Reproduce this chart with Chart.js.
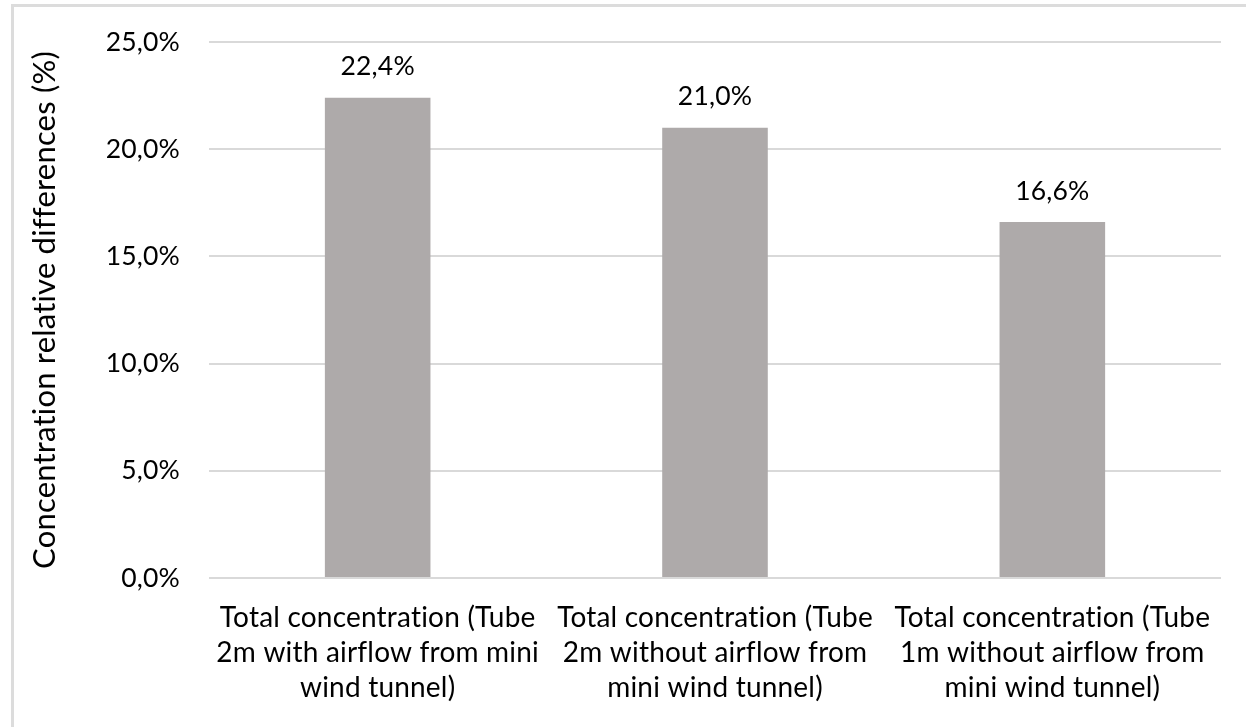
<!DOCTYPE html>
<html>
<head>
<meta charset="utf-8">
<script src="https://cdn.jsdelivr.net/npm/chart.js@4/dist/chart.umd.min.js"></script>
<style>
  html, body { margin: 0; padding: 0; background: #fff; overflow: hidden; }
  #wrap { position: relative; width: 1246px; height: 727px; }
  #frame {
    position: absolute; left: 11px; top: 4px; width: 1400px; height: 900px;
    border: 3px solid #dcdcdc; box-sizing: border-box; pointer-events: none;
  }
  canvas { position: absolute; left: 0; top: 0; }
</style>
</head>
<body>
<div id="wrap">
  <canvas id="chart" width="1246" height="727"></canvas>
  <div id="frame"></div>
</div>
<script>
// Categories (multi-line axis labels)
const categories = [
  ['Total concentration (Tube', '2m with airflow from mini', 'wind tunnel)'],
  ['Total concentration (Tube', '2m without airflow from', 'mini wind tunnel)'],
  ['Total concentration (Tube', '1m without airflow from', 'mini wind tunnel)']
];
// Relative differences, in percent
const relativeDiff = [22.4, 21.0, 16.6];
// Value axis ticks
const yTicks = [0, 5, 10, 15, 20, 25];

const FONT = 'Lato, Carlito, Calibri, sans-serif';
const NUM_SIZE = 26.5;
const fmt = v => v.toFixed(1).replace('.', ',') + '%';

// Plain glyphs (no "ti"/"fi" ligatures) for all canvas text
const noLigatures = {
  id: 'noLigatures',
  beforeInit(chart) { chart.ctx.letterSpacing = '0.2px'; },
  beforeDraw(chart) { chart.ctx.letterSpacing = '0.2px'; }
};

// Writes each bar's value above it
const valueLabels = {
  id: 'valueLabels',
  afterDatasetsDraw(chart) {
    const ctx = chart.ctx;
    const meta = chart.getDatasetMeta(0);
    ctx.save();
    ctx.font = NUM_SIZE + 'px ' + FONT;
    ctx.fillStyle = '#000';
    ctx.textAlign = 'center';
    ctx.textBaseline = 'middle';
    meta.data.forEach((bar, i) => {
      ctx.fillText(fmt(relativeDiff[i]), bar.x, bar.y - 31);
    });
    ctx.restore();
  }
};

new Chart(document.getElementById('chart'), {
  type: 'bar',
  data: {
    labels: categories,
    datasets: [{
      data: relativeDiff,
      backgroundColor: '#aeaaaa',
      borderWidth: 0,
      barPercentage: 0.313,
      categoryPercentage: 1
    }]
  },
  options: {
    responsive: false,
    animation: false,
    devicePixelRatio: 1,
    layout: { padding: { left: 0, right: 25, top: 42, bottom: 0 } },
    plugins: { legend: { display: false }, tooltip: { enabled: false } },
    scales: {
      x: {
        grid: { display: false, drawTicks: false },
        border: { display: false },
        ticks: {
          color: '#000',
          font: { family: FONT, size: 28, lineHeight: 1.25 },
          padding: 22,
          maxRotation: 0,
          autoSkip: false
        },
        afterFit(scale) { scale.height = 149; }
      },
      y: {
        min: 0,
        max: 25,
        afterBuildTicks(scale) { scale.ticks = yTicks.map(v => ({ value: v })); },
        grid: { color: '#d9d9d9', lineWidth: 2, drawTicks: false },
        border: { display: false },
        ticks: {
          color: '#000',
          font: { family: FONT, size: NUM_SIZE, lineHeight: 0.95 },
          padding: 29,
          callback: v => fmt(v)
        },
        title: {
          display: true,
          text: 'Concentration relative differences (%)',
          color: '#000',
          font: { family: FONT, size: 31, lineHeight: 1.2 },
          padding: { top: 26, bottom: 0 }
        },
        afterFit(scale) { scale.width = 209; }
      }
    }
  },
  plugins: [noLigatures, valueLabels]
});
</script>
</body>
</html>
